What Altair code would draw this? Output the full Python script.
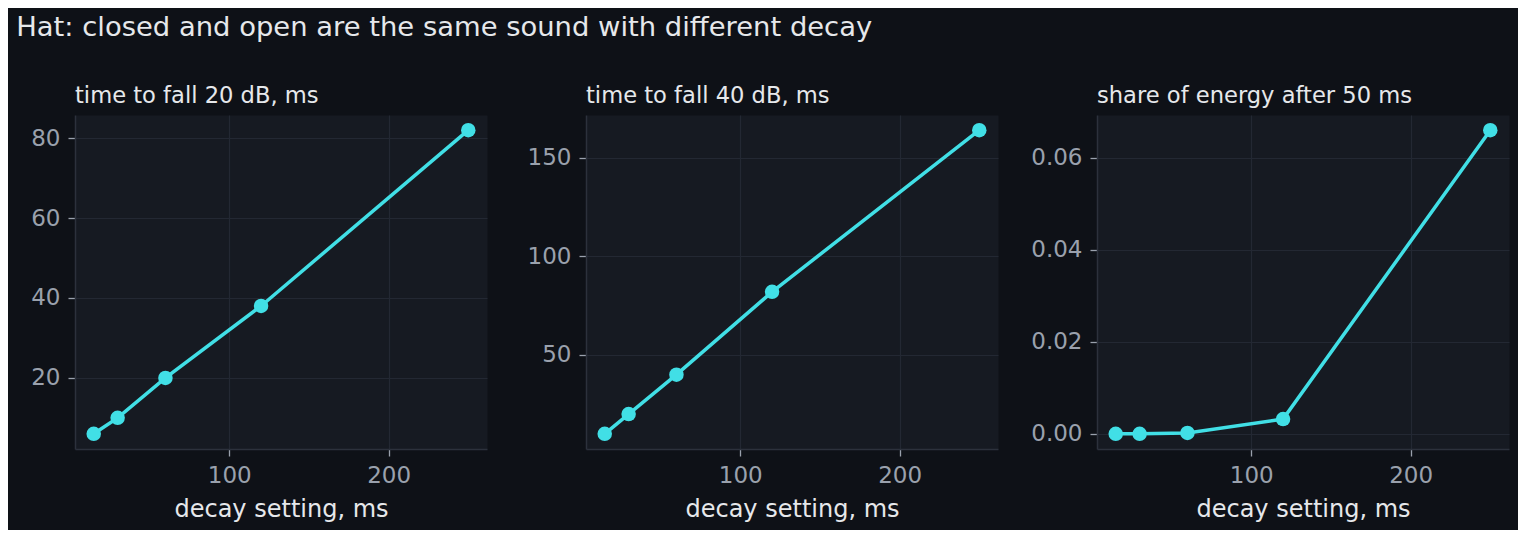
import altair as alt
import pandas as pd

decay = [15, 30, 60, 120, 250]
fall20 = [6, 10, 20, 38, 82]
fall40 = [10, 20, 40, 82, 164]
share50 = [0.0, 0.0, 0.0002, 0.0032, 0.066]

main_title = "Hat: closed and open are the same sound with different decay"
panel_titles = ["time to fall 20 dB, ms", "time to fall 40 dB, ms", "share of energy after 50 ms"]
y_ticks = [[20, 40, 60, 80], [50, 100, 150], [0, 0.02, 0.04, 0.06]]
y_formats = ["d", "d", ".2f"]
x_ticks = [100, 200]
x_title = "decay setting, ms"

CYAN = "#41dfe6"
FONT = "DejaVu Sans"


def margin_domain(vals, frac=0.05):
    lo, hi = min(vals), max(vals)
    m = (hi - lo) * frac
    return [lo - m, hi + m]


def panel(vals, title, ticks, fmt):
    df = pd.DataFrame({"decay": decay, "value": vals})
    x = alt.X(
        "decay:Q",
        scale=alt.Scale(domain=margin_domain(decay), nice=False, zero=False),
        axis=alt.Axis(values=x_ticks, format="d", title=x_title),
    )
    y = alt.Y(
        "value:Q",
        scale=alt.Scale(domain=margin_domain(vals), nice=False, zero=False),
        axis=alt.Axis(values=ticks, format=fmt, title=None),
    )
    base = alt.Chart(df).encode(x=x, y=y)
    line = base.mark_line(color=CYAN, strokeWidth=3.5)
    pts = base.mark_circle(color=CYAN, size=210, opacity=1)
    return alt.layer(line, pts).properties(
        width=412,
        height=334,
        title=alt.TitleParams(
            title,
            anchor="start",
            frame="group",
            fontSize=22.6,
            font=FONT,
            fontWeight="normal",
            color="#e6e8eb",
            baseline="bottom",
            offset=-16,
        ),
    )


panels = [
    panel(v, t, tk, f)
    for v, t, tk, f in zip([fall20, fall40, share50], panel_titles, y_ticks, y_formats)
]

chart = (
    alt.hconcat(*panels, spacing=99, bounds="flush")
    .properties(
        title=alt.TitleParams(
            main_title,
            anchor="start",
            fontSize=27.4,
            font=FONT,
            fontWeight="normal",
            color="#e6e8eb",
            dx=-14,
            offset=44,
        ),
        padding={"left": 8, "top": 5, "right": 8, "bottom": 8},
    )
    .configure(background="#0e1117", font=FONT)
    .configure_view(fill="#161a22", stroke="transparent")
    .configure_axis(
        labelFont=FONT,
        labelFontSize=23,
        labelColor="#9aa1ad",
        titleFont=FONT,
        titleFontSize=24,
        titleFontWeight="normal",
        titleColor="#e6e8eb",
        titlePadding=10,
        domainColor="#2c313c",
        domainWidth=1.5,
        gridColor="#232833",
        gridWidth=1.2,
        tickColor="#9aa1ad",
        tickSize=7,
        tickWidth=1.3,
        labelPadding=8,
    )
)

chart.save("out.html", embed_options={"renderer": "svg", "actions": False})
